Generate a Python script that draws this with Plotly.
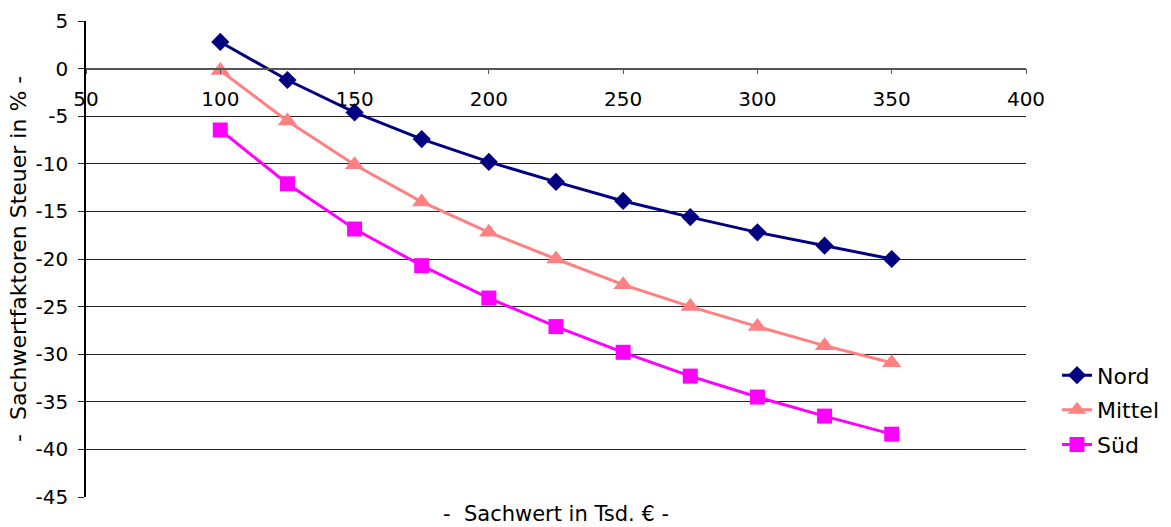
import plotly.graph_objects as go

# Sachwert in Tsd. €
sachwert = [100, 125, 150, 175, 200, 225, 250, 275, 300, 325, 350]

# Sachwertfaktoren Steuer in % per region
nord = [2.8, -1.2, -4.6, -7.4, -9.8, -11.9, -13.9, -15.6, -17.2, -18.6, -20.0]
mittel = [-0.2, -5.5, -10.1, -14.0, -17.2, -20.0, -22.7, -25.0, -27.1, -29.1, -30.9]
sued = [-6.45, -12.1, -16.85, -20.7, -24.1, -27.1, -29.8, -32.3, -34.5, -36.5, -38.4]

x_ticks = [50, 100, 150, 200, 250, 300, 350, 400]
y_ticks = [5, 0, -5, -10, -15, -20, -25, -30, -35, -40, -45]
y_ticktext = [str(v) if v >= 0 else "-" + str(-v) for v in y_ticks]

FONT = "DejaVu Sans"
TICK_SIZE = 20
TEXT_SIZE = 22
Y_MIN, Y_MAX = -45, 5

fig = go.Figure()
fig.add_trace(go.Scatter(
    x=sachwert, y=nord, name="Nord", mode="lines+markers", legendgroup="nord",
    line=dict(color="#000080", width=3),
    marker=dict(symbol="diamond", size=14, color="#000080"),
))
fig.add_trace(go.Scatter(
    x=sachwert, y=mittel, name="Mittel", mode="lines+markers", legendgroup="mittel",
    line=dict(color="#FF8080", width=3),
    marker=dict(symbol="triangle-up", size=17, color="#FF8080"),
))
fig.add_trace(go.Scatter(
    x=sachwert, y=sued, name="Süd", mode="lines+markers", legendgroup="sued",
    line=dict(color="#FF00FF", width=3),
    marker=dict(symbol="square", size=15, color="#FF00FF"),
))

# x axis crosses the y axis at 0
x_axis_pos = (0 - Y_MIN) / (Y_MAX - Y_MIN)

fig.update_layout(
    width=1171, height=527,
    margin=dict(l=86, r=145, t=21, b=30, autoexpand=False),
    paper_bgcolor="white", plot_bgcolor="white",
    font=dict(family=FONT, size=TEXT_SIZE, color="black"),
    xaxis=dict(
        range=[50, 400], tickvals=x_ticks,
        showgrid=False, zeroline=False,
        showline=True, linecolor="#555555", linewidth=1.5,
        anchor="free", position=x_axis_pos,
        ticks="outside", ticklen=5, tickcolor="#555555",
        ticklabelstandoff=8,
        tickfont=dict(family=FONT, size=TICK_SIZE, color="black"),
    ),
    yaxis=dict(
        range=[Y_MIN, Y_MAX], tickvals=y_ticks, ticktext=y_ticktext,
        showgrid=True, gridcolor="#222222", gridwidth=1,
        zeroline=False,
        showline=True, linecolor="black", linewidth=1.5,
        ticks="outside", ticklen=6, tickcolor="#222222",
        ticklabelstandoff=6,
        tickfont=dict(family=FONT, size=TICK_SIZE, color="black"),
    ),
    legend=dict(
        x=1.033, y=0.183, xanchor="left", yanchor="middle",
        font=dict(family=FONT, size=TEXT_SIZE, color="black"),
        bgcolor="rgba(0,0,0,0)", tracegroupgap=3,
    ),
    showlegend=True,
)

fig.add_annotation(
    text="-  Sachwert in Tsd. € -", xref="paper", yref="paper",
    x=0.5, y=0, yshift=-17, yanchor="middle", showarrow=False,
    font=dict(family=FONT, size=21, color="black"),
)
fig.add_annotation(
    text="-  Sachwertfaktoren Steuer in % -", xref="paper", yref="paper",
    x=0, xshift=-68, y=0.5, textangle=-90, xanchor="center", yanchor="middle",
    showarrow=False, font=dict(family=FONT, size=TEXT_SIZE, color="black"),
)

fig.write_html("out.html")
